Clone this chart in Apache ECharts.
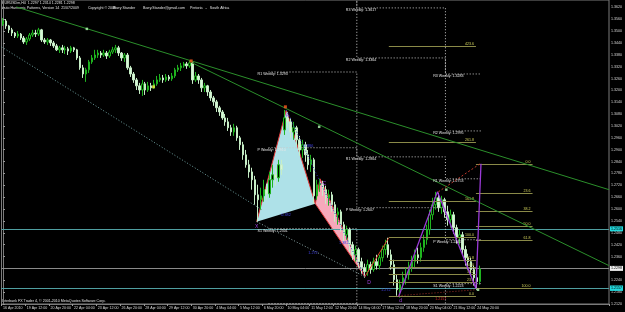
<!DOCTYPE html>
<html>
<head>
<meta charset="utf-8">
<style>
  html, body { margin: 0; padding: 0; background: #000; }
  #chart { width: 625px; height: 312px; }
</style>
<script src="https://cdn.jsdelivr.net/npm/echarts@6/dist/echarts.min.js"></script>
</head>
<body>
<div id="chart"></div>
<script>
// H4 bars, 16 Apr 2010 04:00 .. 25 May 2010 00:00, [open, close, low, high]
var candles = [
  [1.3536,1.3551,1.3526,1.3566],[1.3551,1.3526,1.3511,1.3561],[1.3526,1.3506,1.3490,1.3531],[1.3506,1.3490,1.3475,1.3516],
  [1.3490,1.3475,1.3465,1.3495],[1.3475,1.3485,1.3465,1.3500],[1.3485,1.3465,1.3455,1.3490],[1.3465,1.3445,1.3435,1.3475],
  [1.3445,1.3460,1.3430,1.3470],[1.3460,1.3480,1.3450,1.3490],[1.3480,1.3490,1.3470,1.3506],[1.3490,1.3485,1.3470,1.3506],
  [1.3485,1.3506,1.3475,1.3516],[1.3506,1.3455,1.3445,1.3511],[1.3455,1.3445,1.3435,1.3465],[1.3445,1.3455,1.3430,1.3465],
  [1.3455,1.3440,1.3425,1.3460],[1.3440,1.3425,1.3415,1.3450],[1.3425,1.3405,1.3399,1.3435],[1.3405,1.3415,1.3389,1.3425],
  [1.3415,1.3405,1.3389,1.3430],[1.3405,1.3410,1.3384,1.3425],[1.3410,1.3399,1.3379,1.3420],[1.3399,1.3415,1.3389,1.3425],
  [1.3415,1.3405,1.3394,1.3420],[1.3405,1.3364,1.3354,1.3410],[1.3364,1.3314,1.3304,1.3374],[1.3314,1.3283,1.3263,1.3329],
  [1.3283,1.3304,1.3243,1.3314],[1.3304,1.3344,1.3288,1.3354],[1.3344,1.3364,1.3334,1.3379],[1.3364,1.3379,1.3354,1.3405],
  [1.3379,1.3389,1.3364,1.3405],[1.3389,1.3379,1.3364,1.3399],[1.3379,1.3389,1.3369,1.3405],[1.3389,1.3374,1.3359,1.3399],
  [1.3374,1.3394,1.3364,1.3405],[1.3394,1.3405,1.3384,1.3420],[1.3405,1.3415,1.3389,1.3430],[1.3415,1.3389,1.3374,1.3425],
  [1.3389,1.3364,1.3349,1.3394],[1.3364,1.3379,1.3344,1.3389],[1.3379,1.3314,1.3304,1.3389],[1.3314,1.3283,1.3268,1.3324],
  [1.3283,1.3253,1.3238,1.3293],[1.3253,1.3223,1.3202,1.3263],[1.3223,1.3202,1.3182,1.3238],[1.3202,1.3233,1.3172,1.3253],
  [1.3233,1.3202,1.3177,1.3243],[1.3202,1.3223,1.3192,1.3243],[1.3223,1.3213,1.3197,1.3238],[1.3213,1.3233,1.3208,1.3253],
  [1.3233,1.3253,1.3223,1.3273],[1.3253,1.3263,1.3243,1.3283],[1.3263,1.3253,1.3238,1.3278],[1.3253,1.3268,1.3243,1.3283],
  [1.3268,1.3258,1.3248,1.3278],[1.3258,1.3273,1.3248,1.3288],[1.3273,1.3304,1.3263,1.3314],[1.3304,1.3314,1.3293,1.3329],
  [1.3314,1.3324,1.3298,1.3339],[1.3324,1.3334,1.3314,1.3344],[1.3334,1.3324,1.3309,1.3344],[1.3324,1.3339,1.3314,1.3349],
  [1.3339,1.3253,1.3233,1.3344],[1.3253,1.3273,1.3243,1.3293],[1.3273,1.3253,1.3233,1.3283],[1.3253,1.3213,1.3192,1.3263],
  [1.3213,1.3223,1.3192,1.3238],[1.3223,1.3192,1.3172,1.3228],[1.3192,1.3162,1.3147,1.3202],[1.3162,1.3142,1.3122,1.3172],
  [1.3142,1.3112,1.3091,1.3152],[1.3112,1.3091,1.3071,1.3122],[1.3091,1.3061,1.3051,1.3101],[1.3061,1.3041,1.3021,1.3081],
  [1.3041,1.3011,1.2995,1.3061],[1.3011,1.2990,1.2970,1.3026],[1.2990,1.3011,1.2970,1.3031],[1.3011,1.2960,1.2945,1.3021],
  [1.2960,1.2925,1.2899,1.2970],[1.2925,1.2874,1.2849,1.2940],[1.2874,1.2824,1.2809,1.2899],[1.2824,1.2788,1.2758,1.2849],
  [1.2788,1.2748,1.2698,1.2809],[1.2748,1.2672,1.2622,1.2768],[1.2672,1.2647,1.2536,1.2723],[1.2647,1.2667,1.2597,1.2708],
  [1.2667,1.2698,1.2637,1.2748],[1.2698,1.2677,1.2647,1.2728],[1.2677,1.2748,1.2657,1.2788],[1.2748,1.2773,1.2708,1.2824],
  [1.2773,1.2758,1.2718,1.2809],[1.2758,1.2824,1.2738,1.2849],[1.2824,1.2799,1.2773,1.2849],[1.3000,1.3061,1.2975,1.3101],
  [1.3061,1.3041,1.3011,1.3091],[1.3041,1.2990,1.2960,1.3061],[1.2990,1.3011,1.2950,1.3041],[1.3011,1.2950,1.2920,1.3021],
  [1.2950,1.2899,1.2869,1.2970],[1.2899,1.2925,1.2859,1.2950],[1.2925,1.2874,1.2839,1.2940],[1.2874,1.2824,1.2799,1.2899],
  [1.2824,1.2849,1.2788,1.2874],[1.2849,1.2667,1.2627,1.2859],[1.2667,1.2723,1.2647,1.2748],[1.2723,1.2728,1.2687,1.2753],
  [1.2728,1.2698,1.2667,1.2743],[1.2698,1.2657,1.2627,1.2718],[1.2657,1.2672,1.2617,1.2698],[1.2672,1.2622,1.2586,1.2687],
  [1.2622,1.2571,1.2536,1.2637],[1.2571,1.2586,1.2521,1.2607],[1.2586,1.2521,1.2485,1.2597],[1.2521,1.2470,1.2435,1.2536],
  [1.2470,1.2496,1.2445,1.2516],[1.2496,1.2420,1.2384,1.2506],[1.2420,1.2369,1.2344,1.2435],[1.2369,1.2395,1.2334,1.2415],
  [1.2395,1.2334,1.2304,1.2405],[1.2334,1.2304,1.2273,1.2354],[1.2304,1.2283,1.2253,1.2324],[1.2283,1.2319,1.2263,1.2344],
  [1.2319,1.2294,1.2273,1.2334],[1.2294,1.2334,1.2283,1.2354],[1.2334,1.2314,1.2294,1.2369],[1.2314,1.2354,1.2294,1.2369],
  [1.2354,1.2395,1.2334,1.2415],[1.2395,1.2420,1.2369,1.2445],[1.2420,1.2369,1.2354,1.2455],[1.2369,1.2319,1.2294,1.2395],
  [1.2319,1.2243,1.2213,1.2344],[1.2243,1.2192,1.2162,1.2268],[1.2192,1.2218,1.2152,1.2243],[1.2218,1.2253,1.2192,1.2283],
  [1.2253,1.2268,1.2218,1.2304],[1.2268,1.2304,1.2243,1.2334],[1.2304,1.2334,1.2283,1.2364],[1.2334,1.2369,1.2304,1.2395],
  [1.2369,1.2354,1.2324,1.2405],[1.2354,1.2405,1.2334,1.2430],[1.2405,1.2445,1.2384,1.2470],[1.2445,1.2496,1.2420,1.2521],
  [1.2496,1.2571,1.2470,1.2597],[1.2571,1.2622,1.2546,1.2657],[1.2622,1.2657,1.2597,1.2687],[1.2657,1.2607,1.2586,1.2682],
  [1.2607,1.2647,1.2576,1.2667],[1.2647,1.2586,1.2556,1.2657],[1.2586,1.2546,1.2516,1.2617],[1.2546,1.2571,1.2506,1.2597],
  [1.2571,1.2506,1.2475,1.2586],[1.2506,1.2455,1.2425,1.2521],[1.2455,1.2470,1.2420,1.2496],[1.2470,1.2395,1.2369,1.2485],
  [1.2395,1.2354,1.2314,1.2415],[1.2354,1.2334,1.2294,1.2374],[1.2334,1.2294,1.2263,1.2354],[1.2294,1.2253,1.2213,1.2314],
  [1.2253,1.2233,1.2192,1.2283],[1.2233,1.2298,1.2218,1.2314]
];

// date labels, one every 8 bars
var dateLabels = ['16 Apr 2010','19 Apr 12:00','20 Apr 20:00','22 Apr 04:00','23 Apr 12:00','26 Apr 20:00',
  '28 Apr 04:00','29 Apr 12:00','30 Apr 20:00','4 May 04:00','5 May 12:00','6 May 20:00','10 May 04:00',
  '11 May 12:00','12 May 20:00','14 May 04:00','17 May 12:00','18 May 20:00','20 May 04:00','21 May 12:00','24 May 20:00'];
var slotCount = 205; // bars + empty space on the right

// trend lines, [bar index, price]
var greenLine1 = [[4.5, 1.3622], [204.5, 1.2698]];
var greenLine2 = [[63.2, 1.3344], [204.5, 1.2314]];
var channelLine = [[-0.5, 1.3420], [87.3, 1.2597]];
var lineXD = [[85.6, 1.2536], [122.1, 1.2258]];
var lineAD = [[95.6, 1.3101], [122.1, 1.2258]];

// harmonic pattern
var triXAB = [[85.6, 1.2536], [95.6, 1.3101], [105.4, 1.2627]];
var triBCD = [[105.4, 1.2627], [107.0, 1.2753], [122.1, 1.2258]];
var purplePath = [[133.5, 1.2157], [146.6, 1.2687], [159.6, 1.2198], [161.3, 1.2829]];
var redLeg = [[122.1, 1.2258], [130.2, 1.2455]];
var redDashed = [[146.9, 1.2687], [161.0, 1.2829]];
var redDotted = [[133.5, 1.2162], [159.6, 1.2192]];

// weekly pivots: week boundaries and levels per week
var pivotX = [89.6, 119.4, 149.3, 161.3];
var pivotR3 = [1.4086, 1.3617, 1.3283];
var pivotR2 = [1.3702, 1.3364, 1.2995];
var pivotR1 = [1.3293, 1.2864, 1.2753];
var pivotP  = [1.2910, 1.2607, 1.2445];
var pivotS1 = [1.2501, 1.2107, 1.2223];
var pivotS2 = [1.2122, 1.1849, 1.1915];
var pivotLabels = [
  [85.9, 1.3293, 'R1 Weekly: 1.3293'], [85.9, 1.2910, 'P Weekly: 1.2910'], [85.9, 1.2501, 'S1 Weekly: 1.2501'],
  [115.7, 1.3617, 'R3 Weekly: 1.3617'], [115.7, 1.3364, 'R2 Weekly: 1.3364'], [115.7, 1.2864, 'R1 Weekly: 1.2864'],
  [115.7, 1.2607, 'P Weekly: 1.2607'],
  [145.2, 1.3283, 'R3 Weekly: 1.3283'], [145.2, 1.2995, 'R2 Weekly: 1.2995'], [145.2, 1.2753, 'R1 Weekly: 1.2753'],
  [145.2, 1.2445, 'P Weekly: 1.2445'], [145.2, 1.2223, 'S1 Weekly: 1.2223']
];

// fibonacci sets
var fibLeftX = [130.2, 159.6];
var fibLeftRatios = ['0.0','23.6','38.2','50.0','61.8','100.0','161.8','261.8','423.6'];
var fibLeftPrices = [1.2160, 1.2230, 1.2274, 1.2309, 1.2344, 1.2458, 1.2642, 1.2940, 1.3423];
var fibRightX = [159.6, 178.7];
var fibRightRatios = ['0.0','23.6','38.2','50.0','61.8','100.0'];
var fibRightPrices = [1.2829, 1.2681, 1.2590, 1.2516, 1.2442, 1.2203];

// horizontal price lines
var cyanLevels = [1.2516, 1.2238, 1.2157];
var bidPrice = 1.2298;

// small markers and texts
var orangeMarks = [[95.3, 1.3117], [63.5, 1.3349]];
var yellowMarks = [[50.8, 1.3218]];
var lineMarks = [[28.3, 1.3511], [106.7, 1.3016], [149.6, 1.2698], [160.3, 1.2192]];
var ratioLabels = [[93.9, 1.2571, '0.382'], [103.0, 1.2379, '1.272'], [113.4, 1.2430, '1.382'],
  [127.6, 1.2192, '1.272'], [101.5, 1.2920, '0.886']];
var pointLabels = [[96.0, 1.3071, 'A'], [108.4, 1.2728, 'C'], [85.6, 1.2511, 'X'], [123.5, 1.2228, 'D'], [134.2, 1.2137, 'd']];
var redLabels = [[145.9, 1.2147, '1.2157']];

var FONT = '"Liberation Sans", Arial, sans-serif';

function lineSeries(data, color, type, width, z) {
  return {
    type: 'line', xAxisIndex: 1, yAxisIndex: 0, data: data, symbol: 'none', silent: true,
    z: z || 4, lineStyle: { color: color, width: width || 1, type: type || 'solid' }
  };
}

function polygonSeries(points, fill, edges) {
  return {
    type: 'custom', xAxisIndex: 1, yAxisIndex: 0, z: 1, clip: true, silent: true,
    data: points, encode: { x: 0, y: 1 },
    renderItem: function (params, api) {
      if (params.dataIndex !== 0) return null;
      var pts = points.map(function (p) { return api.coord(p); });
      var children = [{ type: 'polygon', shape: { points: pts }, style: { fill: fill } }];
      if (edges) {
        children.push({ type: 'polyline', shape: { points: edges.map(function (k) { return pts[k]; }) },
          style: { stroke: '#e23b3b', lineWidth: 1, fill: null } });
      }
      return { type: 'group', children: children };
    }
  };
}

function textSeries(rows, color, align, vAlign, size) {
  return {
    type: 'custom', xAxisIndex: 1, yAxisIndex: 0, z: 20, silent: true,
    data: rows.map(function (r) { return [r[0], r[1]]; }), encode: { x: 0, y: 1 },
    renderItem: function (params, api) {
      var r = rows[params.dataIndex];
      var p = api.coord([r[0], r[1]]);
      return { type: 'text', x: p[0], y: p[1],
        style: { text: r[2], fill: color, font: (size || 3.6) + 'px ' + FONT, align: align, verticalAlign: vAlign } };
    }
  };
}

function fibSeries(xr, ratios, prices) {
  var rows = prices.map(function (p, k) { return [xr[0], xr[1], p, ratios[k]]; });
  return {
    type: 'custom', xAxisIndex: 1, yAxisIndex: 0, z: 6, silent: true,
    data: rows.map(function (r) { return [r[0], r[1], r[2]]; }), encode: { x: [0, 1], y: 2 },
    renderItem: function (params, api) {
      var r = rows[params.dataIndex];
      var a = api.coord([r[0], r[2]]), b = api.coord([r[1], r[2]]);
      var y = Math.round(a[1]) + 0.5;
      return { type: 'group', children: [
        { type: 'line', shape: { x1: a[0], y1: y, x2: b[0], y2: y }, style: { stroke: '#8a8a48', lineWidth: 1 } },
        { type: 'text', x: b[0] - 2, y: y - 0.5,
          style: { text: r[3], fill: '#d2d25c', font: '3.6px ' + FONT, align: 'right', verticalAlign: 'bottom' } }
      ] };
    }
  };
}

function pivotPath(levels) {
  return [[pivotX[0], levels[0]], [pivotX[1], levels[0]], [pivotX[1], levels[1]],
          [pivotX[2], levels[1]], [pivotX[2], levels[2]], [pivotX[3], levels[2]]];
}

var categories = [];
for (var i = 0; i < slotCount; i++) categories.push('b' + i);

function isLabelSlot(idx) { return idx % 8 === 0 && idx / 8 < dateLabels.length; }

var hLines = cyanLevels.map(function (v) {
  return { yAxis: v, lineStyle: { color: '#4f9ea0', width: 1, type: 'solid' },
    label: { show: true, position: 'end', distance: 1, formatter: v.toFixed(4), color: '#000',
      backgroundColor: '#22d8dc', padding: [1, 1, 0, 1], fontSize: 3.6, fontFamily: 'Liberation Sans' } };
});
hLines.push({ yAxis: bidPrice, lineStyle: { color: '#8a8a8a', width: 1, type: 'solid' },
  label: { show: true, position: 'end', distance: 1, formatter: bidPrice.toFixed(4), color: '#000',
    backgroundColor: '#f0f0f0', padding: [1, 1, 0, 1], fontSize: 3.6, fontFamily: 'Liberation Sans' } });

var series = [
  polygonSeries(triXAB, '#aee1e8', [0, 1, 2]),
  polygonSeries(triBCD, '#f7a9bb', [0, 1, 2, 0]),
  {
    type: 'candlestick', xAxisIndex: 0, yAxisIndex: 0, data: candles, barWidth: 2, z: 5, silent: true,
    itemStyle: { color: '#000', color0: '#d8f5d8', borderColor: '#1fb41f', borderColor0: '#c6eec6', borderWidth: 1 },
    markLine: { silent: true, symbol: ['none', 'none'], animation: false, data: hLines }
  },
  lineSeries(greenLine1, '#2b8f2b', 'solid', 1, 7),
  lineSeries(greenLine2, '#2b8f2b', 'solid', 1, 7),
  lineSeries(channelLine, '#6f9f9f', [1, 2], 1, 7),
  lineSeries(lineXD, '#8aa6a6', [1, 2], 1, 7),
  lineSeries(lineAD, '#2e2eb8', [1, 2], 1, 7),
  lineSeries(purplePath, '#9a3ad6', 'solid', 1.3, 8),
  lineSeries(redLeg, '#d8452a', 'solid', 1, 8),
  lineSeries(redDashed, '#c0392b', [2, 2], 1, 8),
  lineSeries(redDotted, '#a0302a', [1, 2], 1, 8),
  lineSeries(pivotPath(pivotR3), '#c8c8c8', [1, 2], 1, 6),
  lineSeries(pivotPath(pivotR2), '#c8c8c8', [1, 2], 1, 6),
  lineSeries(pivotPath(pivotR1), '#c8c8c8', [1, 2], 1, 6),
  lineSeries(pivotPath(pivotP), '#c8c8c8', [1, 2], 1, 6),
  lineSeries(pivotPath(pivotS1), '#c8c8c8', [1, 2], 1, 6),
  lineSeries(pivotPath(pivotS2), '#c8c8c8', [1, 2], 1, 6),
  fibSeries(fibLeftX, fibLeftRatios, fibLeftPrices),
  fibSeries(fibRightX, fibRightRatios, fibRightPrices),
  { type: 'scatter', xAxisIndex: 1, yAxisIndex: 0, data: orangeMarks, symbol: 'rect', symbolSize: 3, z: 9,
    itemStyle: { color: '#ff5a1e' }, silent: true },
  { type: 'scatter', xAxisIndex: 1, yAxisIndex: 0, data: yellowMarks, symbol: 'rect', symbolSize: 3, z: 9,
    itemStyle: { color: '#f0f040' }, silent: true },
  { type: 'scatter', xAxisIndex: 1, yAxisIndex: 0, data: lineMarks, symbol: 'rect', symbolSize: 2.5, z: 9,
    itemStyle: { color: '#b8ffb8' }, silent: true },
  textSeries(pivotLabels, '#e6e6e6', 'left', 'top', 3.6),
  textSeries(ratioLabels, '#4040e0', 'left', 'middle', 3.8),
  textSeries(pointLabels, '#a040e0', 'center', 'middle', 5),
  textSeries(redLabels, '#d02a2a', 'left', 'middle', 3.6)
];

var chart = echarts.init(document.getElementById('chart'));
chart.setOption({
  animation: false,
  backgroundColor: '#000',
  grid: { left: 0, right: 13, top: 0, bottom: 8, show: true, borderColor: '#7a7a7a', borderWidth: 1, backgroundColor: '#000' },
  xAxis: [
    {
      type: 'category', data: categories, boundaryGap: true,
      axisLine: { lineStyle: { color: '#7a7a7a' } },
      axisTick: { show: true, length: 2, lineStyle: { color: '#9a9a9a' }, interval: function (idx) { return isLabelSlot(idx); } },
      axisLabel: {
        interval: function (idx) { return isLabelSlot(idx); },
        formatter: function (val, idx) { return isLabelSlot(idx) ? dateLabels[idx / 8] : ''; },
        color: '#d8d8d8', fontSize: 3.6, fontFamily: 'Liberation Sans', align: 'left', margin: 2
      },
      splitLine: { show: false }
    },
    { type: 'value', min: -0.5, max: slotCount - 0.5, show: false }
  ],
  yAxis: [{
    type: 'value', position: 'right', min: 1.212, max: 1.3657, interval: 0.006, scale: true,
    axisLine: { show: true, lineStyle: { color: '#7a7a7a' } },
    axisTick: { show: true, length: 2, lineStyle: { color: '#9a9a9a' } },
    axisLabel: { color: '#d8d8d8', fontSize: 3.6, fontFamily: 'Liberation Sans', margin: 2, showMaxLabel: false,
      formatter: function (v) { return v.toFixed(4); } },
    splitLine: { show: false }
  }],
  graphic: [
    { type: 'text', left: 2, top: 1, style: { text: 'EURUSDm,H4  1.2297 1.2314 1.2281 1.2298', fill: '#e0e0e0', font: '3.6px ' + FONT } },
    { type: 'text', left: 2, top: 5.5, style: { text: 'Auto Harmonic Patterns, Version 14  21/07/2009', fill: '#e0e0e0', font: '3.6px ' + FONT } },
    { type: 'text', left: 88, top: 5.5, style: { text: 'Copyright \u00a9 2009', fill: '#e0e0e0', font: '3.6px ' + FONT } },
    { type: 'text', left: 113, top: 5.5, style: { text: 'Barry Stander', fill: '#e0e0e0', font: '3.6px ' + FONT } },
    { type: 'text', left: 143, top: 5.5, style: { text: 'Barry.Stander@gmail.com', fill: '#e0e0e0', font: '3.6px ' + FONT } },
    { type: 'text', left: 190, top: 5.5, style: { text: 'Pretoria   -   South Africa', fill: '#e0e0e0', font: '3.6px ' + FONT } },
    { type: 'text', left: 2, top: 299, style: { text: 'Interbank FX Trader 4, \u00a9 2001-2010 MetaQuotes Software Corp.', fill: '#e0e0e0', font: '3.6px ' + FONT } }
  ],
  series: series
});
</script>
</body>
</html>
